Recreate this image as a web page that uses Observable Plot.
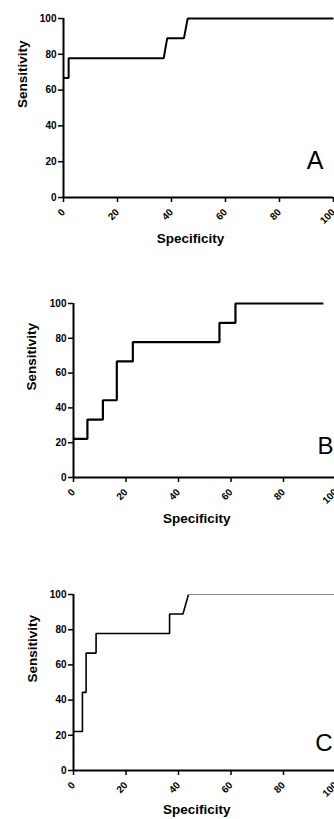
<!DOCTYPE html>
<html>
<head>
<meta charset="utf-8">
<script src="https://cdn.jsdelivr.net/npm/d3@7"></script>
<script src="https://cdn.jsdelivr.net/npm/@observablehq/plot@0.6"></script>
<style>
  html, body { margin: 0; padding: 0; background: #fff; }
  #wrap { position: relative; width: 334px; height: 819px; overflow: hidden; background: #fff; }
  #wrap svg { position: absolute; left: 0; overflow: visible; max-width: none !important; }
</style>
</head>
<body>
<div id="wrap"></div>
<script>
// ---- data ----
const xTicks = [0, 20, 40, 60, 80, 100];
const yTicks = [0, 20, 40, 60, 80, 100];
const xTitle = "Specificity";
const yTitle = "Sensitivity";

// Panel A
const specA = [0, 1.9, 1.9, 37.1, 38.4, 44.6, 46, 100];
const sensA = [66.7, 66.7, 77.8, 77.8, 88.9, 88.9, 100, 100];

// Panel B
const specB = [0, 5.3, 5.3, 11.2, 11.2, 16.5, 16.5, 22.6, 22.6, 55.6, 55.6, 61.7, 61.7, 95.2];
const sensB = [22.2, 22.2, 33.3, 33.3, 44.4, 44.4, 66.7, 66.7, 77.8, 77.8, 88.9, 88.9, 100, 100];

// Panel C
const specC = [0, 3.4, 3.4, 4.8, 4.8, 8.6, 8.6, 36.6, 36.6, 41.7, 43.8];
const sensC = [22.2, 22.2, 44.4, 44.4, 66.7, 66.7, 77.8, 77.8, 88.9, 88.9, 100];
const specCTail = [43.8, 100];
const sensCTail = [100, 100];

const labels = ["A", "B", "C"];

// ---- drawing ----
const zip = (xs, ys) => xs.map((x, i) => ({x, y: ys[i]}));
const font = "'Liberation Sans', Arial, Helvetica, sans-serif";

function panel(o) {
  const width = o.marginLeft + o.xSpan + o.marginRight;
  const height = o.marginTop + o.plotH + o.marginBottom;
  const marks = [
    Plot.axisY({ticks: yTicks, tickSize: 5, tickPadding: 2, fontSize: 10, fontWeight: "bold", label: null, strokeWidth: 1.5}),
    Plot.axisX({ticks: xTicks, tickSize: 5, tickPadding: o.xPad, tickRotate: -45, fontSize: 10, fontWeight: "bold", label: null, strokeWidth: 1.5}),
    Plot.ruleX([0], {y1: 0, y2: 100, strokeWidth: 2, stroke: "black"}),
    Plot.ruleY([0], {x1: 0, x2: 100, strokeWidth: 2, stroke: "black"}),
    Plot.line(o.main, {x: "x", y: "y", stroke: "black", strokeWidth: o.sw, strokeLinejoin: "miter", strokeLinecap: "butt"})
  ];
  if (o.tail) marks.push(Plot.line(o.tail, {x: "x", y: "y", stroke: "#8a8a8a", strokeWidth: 1}));
  marks.push(
    Plot.text([xTitle], {text: d => d, frameAnchor: "bottom", dy: o.xTitleDy, dx: -8, fontSize: 13.5, fontWeight: "bold"}),
    Plot.text([yTitle], {text: d => d, frameAnchor: "left", rotate: -90, dx: o.yTitleDx, fontSize: 13.5, fontWeight: "bold"}),
    Plot.text([o.letter], {text: d => d, frameAnchor: "bottom-right", textAnchor: "end", lineAnchor: "bottom", dx: o.letterDx, dy: o.letterDy, fontSize: o.letterSize})
  );
  const svg = Plot.plot({
    width, height,
    marginLeft: o.marginLeft, marginRight: o.marginRight, marginTop: o.marginTop, marginBottom: o.marginBottom,
    x: {domain: [0, 100]},
    y: {domain: [0, 100]},
    style: {fontFamily: font, color: "black", background: "transparent", overflow: "visible"},
    marks
  });
  svg.style.top = o.top + "px";
  svg.style.maxWidth = "none";
  svg.style.width = width + "px";
  svg.style.height = height + "px";
  document.getElementById("wrap").appendChild(svg);
}

panel({top: 0, marginLeft: 63, marginTop: 18, plotH: 179, marginBottom: 60, xSpan: 270, marginRight: 10,
  main: zip(specA, sensA), sw: 2, letter: labels[0], letterSize: 25, letterDx: -10, letterDy: -29,
  xTitleDy: 45, yTitleDx: -41, xPad: 8});
panel({top: 280, marginLeft: 73, marginTop: 23, plotH: 174, marginBottom: 60, xSpan: 262.5, marginRight: 10,
  main: zip(specB, sensB), sw: 2.2, letter: labels[1], letterSize: 24, letterDx: -2.5, letterDy: -24,
  xTitleDy: 45, yTitleDx: -41.5, xPad: 8});
panel({top: 550, marginLeft: 73, marginTop: 44, plotH: 176, marginBottom: 50, xSpan: 262.5, marginRight: 10,
  main: zip(specC, sensC), tail: zip(specCTail, sensCTail), sw: 1.6, letter: labels[2], letterSize: 24, letterDx: -3.5, letterDy: -20,
  xTitleDy: 43, yTitleDx: -41, xPad: 8});
</script>
</body>
</html>
